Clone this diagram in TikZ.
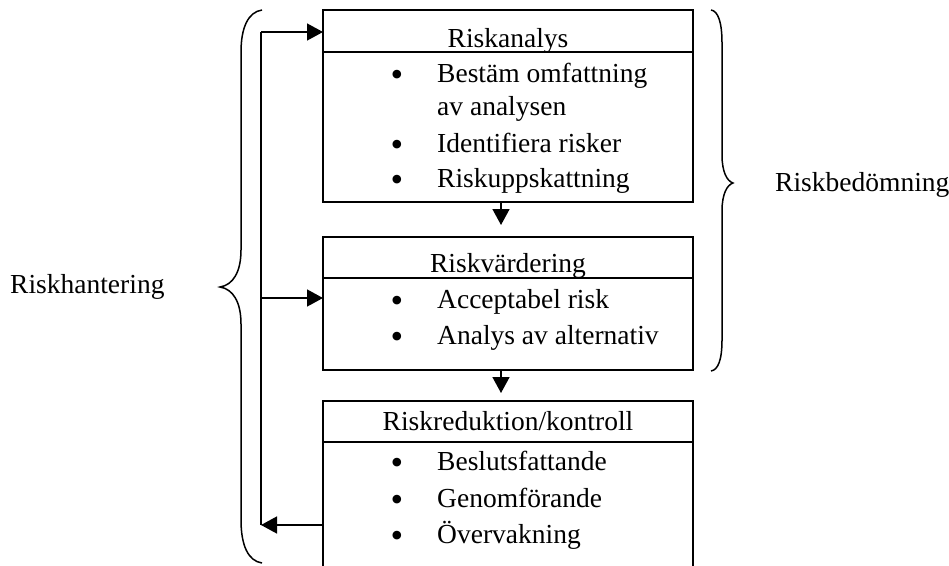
\documentclass[tikz,border=0pt]{standalone}
\usepackage{fontspec}
\setmainfont{Liberation Serif}
\usetikzlibrary{arrows.meta}
\newcommand{\txtsize}{\fontsize{27.5}{31}\selectfont}
\newcommand{\dotsize}{\fontsize{36}{36}\selectfont}
\begin{document}
\begin{tikzpicture}[x=1pt,y=-1pt,
  frame/.style={draw, line width=1.5pt, anchor=north west, inner sep=0pt,
                outer sep=0pt, minimum width=370pt},
  openframe/.style={frame, draw=none},
  title/.style={anchor=base, inner sep=0pt, font=\txtsize},
  item/.style={anchor=base west, inner sep=0pt, font=\txtsize},
  bullet/.style={anchor=base, inner sep=0pt, yshift=-4pt, font=\dotsize},
  side/.style={anchor=base west, inner sep=0pt, font=\txtsize},
  wire/.style={line width=1.5pt},
  link/.style={wire, -{Triangle[length=16pt,width=17pt]}},
  bracket/.style={line width=1.5pt}]
\useasboundingbox (0,0) rectangle (949,565);
\clip (0,0) rectangle (949,565);

% ---- Riskanalys ----
\node[frame, minimum height=42pt]  (b1h) at (323,10)  {};
\node[frame, minimum height=150pt] (b1b) at (323,52)  {};
\node[title] (t1)  at (508,47)  {Riskanalys};
\node[bullet] (d11) at (397,82)  {•};
\node[item]   (i11) at (437,82)  {Bestäm omfattning};
\node[item]   (i12) at (437,115) {av analysen};
\node[bullet] (d13) at (397,152) {•};
\node[item]   (i13) at (437,152) {Identifiera risker};
\node[bullet] (d14) at (397,187) {•};
\node[item]   (i14) at (437,187) {Riskuppskattning};

% ---- Riskvärdering ----
\node[frame, minimum height=41pt] (b2h) at (323,237) {};
\node[frame, minimum height=92pt] (b2b) at (323,278) {};
\node[title] (t2)  at (508,272) {Riskvärdering};
\node[bullet] (d21) at (397,308) {•};
\node[item]   (i21) at (437,308) {Acceptabel risk};
\node[bullet] (d22) at (397,344) {•};
\node[item]   (i22) at (437,344) {Analys av alternativ};

% ---- Riskreduktion/kontroll (runs on below the lower edge) ----
\node[frame, minimum height=41pt]      (b3h) at (323,401) {};
\node[openframe, minimum height=140pt] (b3b) at (323,442) {};
\draw[wire] (b3b.north west) -- (b3b.south west);
\draw[wire] (b3b.north east) -- (b3b.south east);
\node[title] (t3)  at (508,430) {Riskreduktion/kontroll};
\node[bullet] (d31) at (397,470) {•};
\node[item]   (i31) at (437,470) {Beslutsfattande};
\node[bullet] (d32) at (397,507) {•};
\node[item]   (i32) at (437,507) {Genomförande};
\node[bullet] (d33) at (397,543) {•};
\node[item]   (i33) at (437,543) {Övervakning};

% ---- flow downwards ----
\draw[link] ([xshift=-7pt]b1b.south) -- ([xshift=-7pt,yshift=12pt]b2h.north);
\draw[link] ([xshift=-7pt]b2b.south) -- ([xshift=-7pt,yshift=8pt]b3h.north);

% ---- feedback loop on the left ----
\coordinate (loopTop) at (261,32);
\coordinate (loopMid) at (261,298);
\coordinate (loopBot) at (261,525);
\draw[wire] (loopBot) -- (loopTop);
\draw[link] (loopTop) -- (loopTop -| b1h.west);
\draw[link] (loopMid) -- (loopMid -| b2b.west);
\draw[link] (loopBot -| b3b.west) -- (loopBot);

% ---- braces and their labels ----
\draw[bracket] (711,10) .. controls (718,11) and (722,22) .. (722,43)
  -- (722,155) .. controls (722,172) and (727,181) .. (733,183)
  .. controls (727,185) and (722,194) .. (722,211)
  -- (722,340) .. controls (722,360) and (718,370) .. (711,371);
\node[side] (assess) at (775,191) {Riskbedömning};

\draw[bracket] (262,10) .. controls (248,12) and (241,28) .. (241,52)
  -- (241,250) .. controls (241,272) and (233,285) .. (220,287)
  .. controls (233,289) and (241,302) .. (241,324)
  -- (241,520) .. controls (241,545) and (248,561) .. (262,563);
\node[side] (manage) at (10,293) {Riskhantering};
\end{tikzpicture}
\end{document}
